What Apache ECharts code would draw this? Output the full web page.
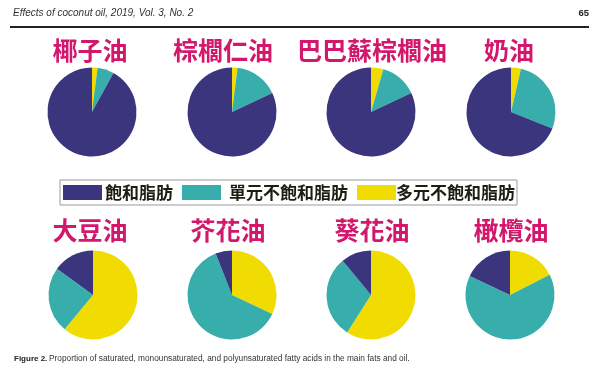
<!DOCTYPE html>
<html><head><meta charset="utf-8">
<script src="https://cdn.jsdelivr.net/npm/echarts@6/dist/echarts.min.js"></script>
<style>html,body{margin:0;padding:0;background:#fff}#c{width:600px;height:371px}</style>
</head><body><div id="c"></div>
<script>
const oils = ['椰子油','棕櫚仁油','巴巴蘇棕櫚油','奶油','大豆油','芥花油','葵花油','橄欖油'];
const seriesNames = ['多元不飽和脂肪','單元不飽和脂肪','飽和脂肪'];
const poly = [2, 2, 4.5, 3.6, 61, 32, 59, 17.5];
const mono = [6, 16, 13.5, 27.4, 24, 62, 30, 64.5];
const sat  = [92, 82, 82, 69, 15, 6, 11, 18];
const legendOrder = ['飽和脂肪','單元不飽和脂肪','多元不飽和脂肪'];
const headerText = 'Effects of coconut oil, 2019, Vol. 3, No. 2';
const pageNo = '65';
const captionBold = 'Figure 2.';
const captionText = 'Proportion of saturated, monounsaturated, and polyunsaturated fatty acids in the main fats and oil.';

const colors = {'飽和脂肪':'#3b357e','單元不飽和脂肪':'#38aeac','多元不飽和脂肪':'#f0dc00'};
const centersX = [92, 232, 371, 511, 93, 232, 371, 510];
const centersY = [112, 112, 112, 112, 295, 295, 295, 295];
const titleX = [90, 223, 372, 509, 90, 228, 372, 511];
const titleY = [50, 50, 50, 50, 230, 230, 230, 230];

const series = oils.map((o, i) => ({
  type: 'pie', name: o, radius: 44.5, center: [centersX[i], centersY[i]],
  startAngle: 90, clockwise: true, silent: true, animation: false,
  label: {show: false}, labelLine: {show: false},
  itemStyle: {borderWidth: 0},
  data: [
    {name: seriesNames[0], value: poly[i], itemStyle: {color: colors[seriesNames[0]]}},
    {name: seriesNames[1], value: mono[i], itemStyle: {color: colors[seriesNames[1]]}},
    {name: seriesNames[2], value: sat[i], itemStyle: {color: colors[seriesNames[2]]}}
  ]
}));

const titleGraphics = oils.map((o, i) => ({
  type: 'text', x: titleX[i], y: titleY[i],
  style: {text: o, fill: '#d3176c', font: 'bold 25px "Noto Sans CJK TC"', textAlign: 'center', textVerticalAlign: 'middle'}
}));

const legFont = {fontSize: 17, fontWeight: 'bold', color: '#1f1d12', fontFamily: '"Noto Sans CJK TC"'};
const richKey = {'飽和脂肪':'a','單元不飽和脂肪':'b','多元不飽和脂肪':'c'};

const chart = echarts.init(document.getElementById('c'), null, {renderer: 'canvas'});
chart.setOption({
  animation: false,
  color: legendOrder.map(n => colors[n]),
  legend: {
    data: legendOrder, left: 60, top: 180, orient: 'horizontal',
    icon: 'rect', itemWidth: 39, itemHeight: 15, itemGap: 9,
    padding: [4, 2, 4, 3], borderColor: '#9a9a9a', borderWidth: 1,
    formatter: n => '{' + richKey[n] + '|' + n + '}',
    textStyle: Object.assign({}, legFont, {
      rich: {
        a: Object.assign({}, legFont, {padding: [0, 0, 0, -2]}),
        b: Object.assign({}, legFont, {padding: [0, 2, 0, 3]}),
        c: Object.assign({}, legFont, {padding: [0, 0, 0, -5]})
      }
    }),
    selectedMode: false
  },
  graphic: [
    {type: 'text', x: 13, y: 13, style: {text: headerText, font: 'italic 10px "Liberation Sans"', fill: '#333', textVerticalAlign: 'middle'}},
    {type: 'text', x: 589, y: 13, style: {text: pageNo, font: 'bold 9.5px "Liberation Sans"', fill: '#222', textAlign: 'right', textVerticalAlign: 'middle'}},
    {type: 'rect', shape: {x: 10, y: 26, width: 579, height: 2}, style: {fill: '#222'}},
    {type: 'text', x: 14, y: 359, style: {text: captionBold, font: 'bold 8px "Liberation Sans"', fill: '#222', textVerticalAlign: 'middle'}},
    {type: 'text', x: 49, y: 359, style: {text: captionText, font: '8.3px "Liberation Sans"', fill: '#333', textVerticalAlign: 'middle'}}
  ].concat(titleGraphics),
  series: series
});
</script></body></html>
